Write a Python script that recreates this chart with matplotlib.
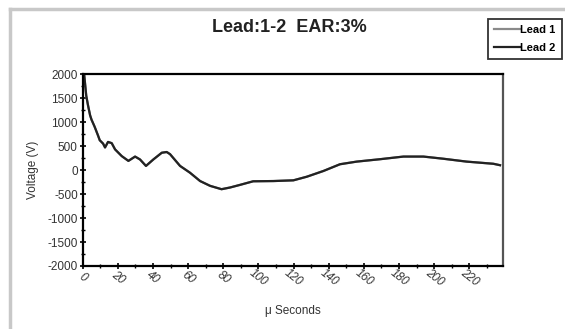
import numpy as np
import matplotlib
matplotlib.use('Agg')
from matplotlib import pyplot as plt
from matplotlib.lines import Line2D
from matplotlib.ticker import MultipleLocator

# readings taken off the trace (both leads lie on top of each other)
t_us = [0, 0.8, 2, 3, 4.2, 5, 6.8, 8.7, 9.7, 11.6, 12.7, 14.4, 16.5, 18.4, 22.2, 26,
        29.8, 32.6, 36, 40.2, 45, 47.8, 49.7, 55.4, 61, 66.8, 72.5, 79, 83.8, 89.5,
        97, 108.5, 119.9, 127.5, 137, 146.4, 155.9, 169.2, 182.5, 193.9, 205.2,
        218.5, 233.7, 237.5]
lead1 = [1800, 2000, 1550, 1350, 1140, 1050, 900, 720, 620, 550, 470, 585, 560, 430,
         290, 190, 280, 220, 85, 220, 360, 375, 330, 85, -55, -230, -330, -400, -365,
         -310, -235, -230, -215, -140, -20, 120, 175, 225, 280, 280, 235, 175, 130, 100]
lead2 = list(lead1)

x_ticks = list(range(0, 221, 20))
y_ticks = list(range(-2000, 2001, 500))

plt.rcParams['font.family'] = ['Liberation Sans', 'DejaVu Sans']
plt.rcParams['axes.unicode_minus'] = False

fig = plt.figure(figsize=(5.65, 3.29), dpi=100)
fig.patch.set_facecolor('white')

# light grey chart-area frame
fig.add_artist(Line2D([10/565, 10/565], [0, 1 - 9/329], transform=fig.transFigure,
                      color='#c8c8c8', lw=2.5))
fig.add_artist(Line2D([10/565, 1], [1 - 9/329, 1 - 9/329], transform=fig.transFigure,
                      color='#c8c8c8', lw=2.5))

ax = fig.add_axes([0.1464, 0.1915, 0.7433, 0.5835])
ax.plot(t_us, lead1, color='#8a8a8a', lw=1.6, label='Lead 1')
ax.plot(t_us, lead2, color='#222222', lw=1.6, label='Lead 2')

ax.set_xlim(0, 239)
ax.set_ylim(-2000, 2000)
ax.set_xticks(x_ticks)
ax.set_yticks(y_ticks)
ax.xaxis.set_minor_locator(MultipleLocator(10))
ax.yaxis.set_minor_locator(MultipleLocator(250))
ax.tick_params(which='major', direction='inout', length=5, width=1.2,
               labelsize=8.5, labelcolor='#333333', pad=1)
ax.tick_params(axis='x', which='major', pad=6)
ax.tick_params(which='minor', direction='inout', length=3, width=1)
for lab in ax.get_xticklabels():
    lab.set_rotation(-38)
    lab.set_ha('center')
    lab.set_va('center')
    lab.set_style('italic')
for side in ['left', 'bottom', 'top']:
    ax.spines[side].set_linewidth(1.6)
ax.spines['right'].set_linewidth(1.6)
ax.spines['right'].set_color('#555555')

ax.set_xlabel('\u03bc Seconds', fontsize=8.5, color='#333333', labelpad=12)
ax.set_ylabel('Voltage (V)', fontsize=8.5, color='#333333', labelpad=6)
fig.text(0.513, 0.915, 'Lead:1-2  EAR:3%', ha='center', va='center',
         fontsize=13, fontweight='bold', color='#222222')

leg = fig.legend(loc='upper left', bbox_to_anchor=(482/565, 1 - 13/329),
                 frameon=True, fancybox=False, handlelength=2.4,
                 handletextpad=0.0, borderpad=0.55, labelspacing=0.75,
                 prop={'weight': 'bold', 'size': 8})
leg.get_frame().set_edgecolor('black')
leg.get_frame().set_linewidth(1.3)

fig.savefig('out.png', dpi=100)
